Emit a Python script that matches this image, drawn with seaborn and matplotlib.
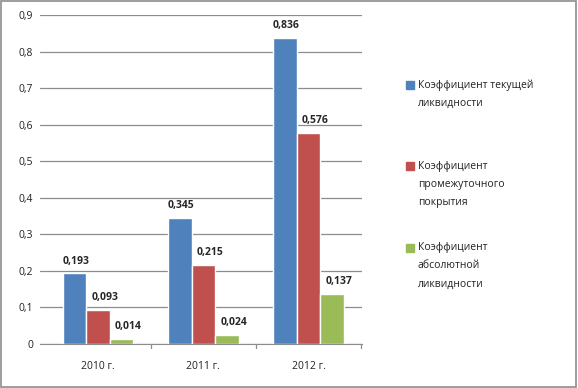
import numpy as np
import pandas as pd
import matplotlib
matplotlib.use("Agg")
import matplotlib.pyplot as plt
import seaborn as sns

years = ["2010 г.", "2011 г.", "2012 г."]
series = ["Коэффициент текущей\nликвидности",
          "Коэффициент\nпромежуточного\nпокрытия",
          "Коэффициент\nабсолютной\nликвидности"]
current = [0.193, 0.345, 0.836]
interim = [0.093, 0.215, 0.576]
absolute = [0.014, 0.024, 0.137]
colors = ["#4f81bd", "#c0504d", "#9bbb59"]

df = pd.DataFrame({
    "year": years * 3,
    "series": [series[0]] * 3 + [series[1]] * 3 + [series[2]] * 3,
    "value": current + interim + absolute,
})

sns.set_style("white")
plt.rcParams["font.family"] = ["Open Sans", "DejaVu Sans"]

W, H = 578, 388
fig = plt.figure(figsize=(W / 100, H / 100), dpi=100)
ax = fig.add_axes([40 / W, 44 / H, 322 / W, 329 / H])

sns.barplot(data=df, x="year", y="value", hue="series", palette=colors,
            width=0.67, saturation=1, ax=ax, legend=False)

ax.set_ylim(0, 0.9)
ax.set_xlim(-0.551, 2.508)
ax.set_yticks(np.arange(0, 0.91, 0.1))
ax.set_yticklabels(["0"] + [f"0,{i}" for i in range(1, 10)], fontsize=7.5, color="#222222")
ax.tick_params(axis="y", length=0, pad=5)
ax.tick_params(axis="x", length=0, pad=12, labelsize=7.5, labelcolor="#222222")
ax.set_xticks([0, 1, 2])
ax.set_xlabel("")
ax.set_ylabel("")
ax.yaxis.grid(True, color="#8c8c8c", linewidth=0.9)
ax.set_axisbelow(True)
for s in ["top", "right", "left"]:
    ax.spines[s].set_visible(False)
ax.spines["bottom"].set_color("#8c8c8c")
# category separators on the x axis
for xs in [0.5, 1.5, 2.5]:
    ax.plot([xs, xs], [0, -0.012], color="#8c8c8c", lw=0.9, clip_on=False)

# value labels, nudged right a bit like Excel does
shifts = [1, 5, 5]
for cont, dx in zip(ax.containers, shifts):
    labels = [f"{v:.3f}".replace(".", ",") for v in cont.datavalues]
    anns = ax.bar_label(cont, labels=labels, padding=5, fontsize=7.5, fontweight="bold")
    for a in anns:
        a.xyann = (dx, 5)

# legend drawn by hand so the swatch sits on the first line
starts = [85, 166, 248]
step = 18
for lab, col, y0 in zip(series, colors, starts):
    fig.patches.append(plt.Rectangle((406 / W, 1 - (y0 + 4) / H), 8 / W, 8 / H,
                                     transform=fig.transFigure, color=col))
    for i, line in enumerate(lab.split("\n")):
        fig.text(418 / W, 1 - (y0 + i * step) / H, line, fontsize=7.5,
                 color="#222222", va="center", ha="left")

fig.patches.append(plt.Rectangle((0.002, 0.003), 0.995, 0.994, transform=fig.transFigure,
                                 fill=False, edgecolor="#8c8c8c", lw=1.2))
fig.savefig("out.png", dpi=100)
